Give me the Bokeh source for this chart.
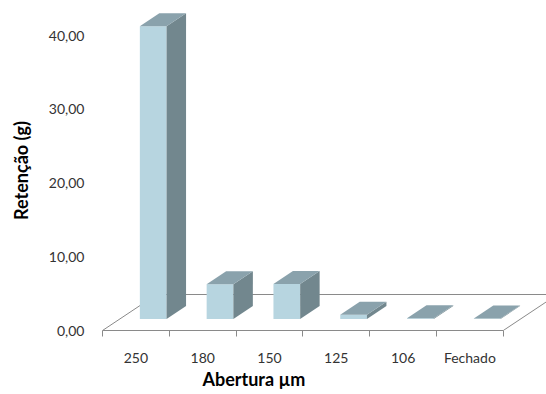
from bokeh.plotting import figure
from bokeh.models import FixedTicker, Title
from bokeh.embed import file_html
from bokeh.resources import INLINE

# ---- data ----
categories = ["250", "180", "150", "125", "106", "Fechado"]
retencao = [39.7, 4.7, 4.75, 0.57, 0.1, 0.08]
y_ticks = [0, 10, 20, 30, 40]
y_tick_labels = ["0,00", "10,00", "20,00", "30,00", "40,00"]
x_title = "Abertura µm"
y_title = "Retenção (g)"

# ---- 3D style constants (oblique projection of the floor depth) ----
DXF = 0.81      # floor depth, horizontal shift (category units)
DYF = 4.88      # floor depth, vertical shift (value units)
BAR_W0, BAR_W1 = 0.3, 0.7    # bar span inside the category
D0, D1 = 0.32, 0.68          # bar span in depth

FRONT = "#B7D5E0"
TOP = "#8AA2AC"
SIDE = "#72878E"
FLOOR = "#8A8A8A"
FONT = "Lato"

n = len(categories)

p = figure(width=546, height=394, x_range=(0, 6.647), y_range=(0, 43.39),
           output_backend="svg", toolbar_location=None,
           min_border_left=102, min_border_right=0, min_border_top=10,
           min_border_bottom=64)
p.outline_line_color = None
p.xgrid.visible = False
p.ygrid.visible = False
p.background_fill_color = "white"

# floor (front edge is the x axis line)
p.line(x=[0, DXF, n + DXF, n], y=[0, DYF, DYF, 0], line_color=FLOOR, line_width=1)

# bars
fl, fr, fb, ft = [], [], [], []
top_xs, top_ys, side_xs, side_ys = [], [], [], []
for i, v in enumerate(retencao):
    x0, x1 = i + BAR_W0, i + BAR_W1
    ax0, ax1 = x0 + D0 * DXF, x1 + D0 * DXF
    bx0, bx1 = x0 + D1 * DXF, x1 + D1 * DXF
    yb0, yb1 = D0 * DYF, D1 * DYF
    fl.append(ax0); fr.append(ax1); fb.append(yb0); ft.append(yb0 + v)
    top_xs.append([ax0, ax1, bx1, bx0])
    top_ys.append([yb0 + v, yb0 + v, yb1 + v, yb1 + v])
    side_xs.append([ax1, bx1, bx1, ax1])
    side_ys.append([yb0, yb1, yb1 + v, yb0 + v])

p.quad(left=fl, right=fr, bottom=fb, top=ft, fill_color=FRONT, line_color=None)
p.patches(xs=side_xs, ys=side_ys, fill_color=SIDE, line_color=None)
p.patches(xs=top_xs, ys=top_ys, fill_color=TOP, line_color=None)

# x axis
xa = p.xaxis[0]
centers = [i + 0.5 for i in range(n)]
xa.ticker = FixedTicker(ticks=centers, minor_ticks=list(range(n + 1)))
xa.major_label_overrides = {c: lab for c, lab in zip(centers, categories)}
xa.bounds = (0, n)
xa.axis_line_color = FLOOR
xa.major_tick_out = 0
xa.major_tick_in = 0
xa.minor_tick_out = 6
xa.minor_tick_in = 0
xa.minor_tick_line_color = FLOOR
xa.major_label_standoff = 12
xa.major_label_text_font = FONT
xa.major_label_text_font_size = "14px"
xa.major_label_text_color = "#333333"

# y axis
ya = p.yaxis[0]
ya.ticker = FixedTicker(ticks=y_ticks)
ya.major_label_overrides = {t: lab for t, lab in zip(y_ticks, y_tick_labels)}
ya.axis_line_color = None
ya.major_tick_line_color = None
ya.minor_tick_line_color = None
ya.major_label_standoff = 12
ya.major_label_text_font = FONT
ya.major_label_text_font_size = "14px"
ya.major_label_text_color = "#333333"
ya.axis_label = y_title
ya.axis_label_text_font = FONT
ya.axis_label_text_font_style = "bold"
ya.axis_label_text_font_size = "18px"
ya.axis_label_text_color = "black"
ya.axis_label_standoff = 14

# x title (below the axis, shifted left like the reference)
p.add_layout(Title(text=x_title, align="left", offset=100, standoff=-5,
                   text_font=FONT, text_font_style="bold",
                   text_font_size="18px", text_color="black"), "below")

open("out.html", "w").write(file_html(p, INLINE))
